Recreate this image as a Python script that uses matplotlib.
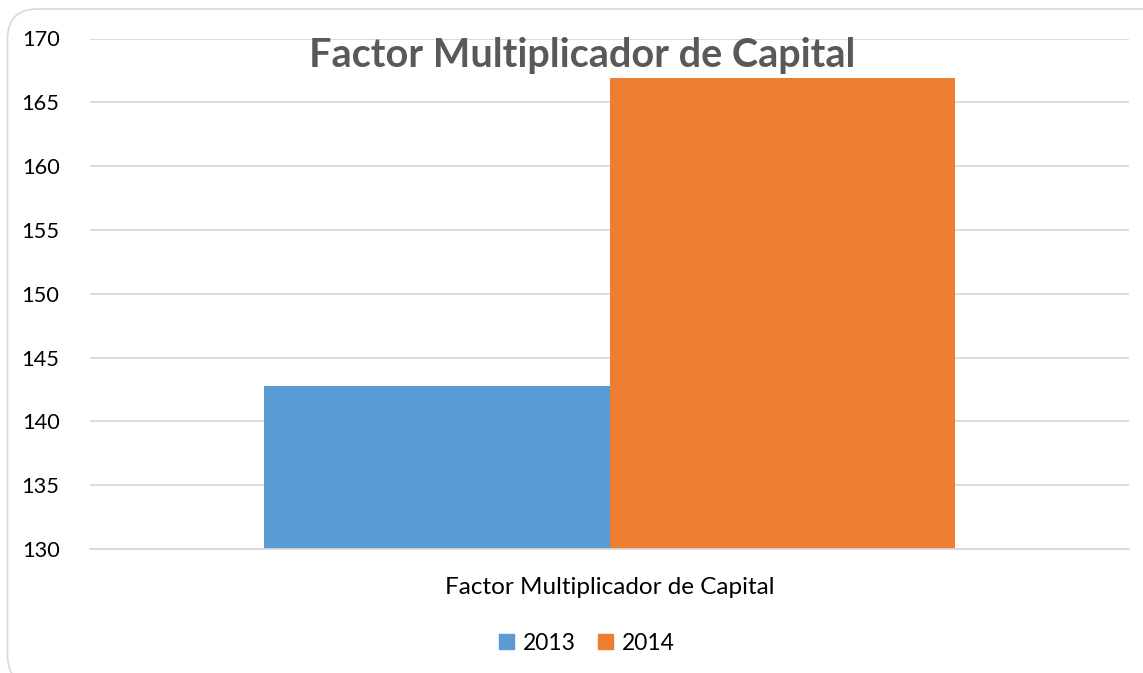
import matplotlib.pyplot as plt
from matplotlib.patches import FancyBboxPatch, Patch

categories = ["Factor Multiplicador de Capital"]
series = ["2013", "2014"]
values_2013 = [142.8]
values_2014 = [166.9]
y_ticks = [130, 135, 140, 145, 150, 155, 160, 165, 170]

blue = "#5B9BD5"
orange = "#ED7D31"

plt.rcParams["font.family"] = ["Lato", "DejaVu Sans"]

W, H = 1143, 673
fig = plt.figure(figsize=(W / 100, H / 100), dpi=100)

# rounded chart border like the Excel chart area (in inches)
border = FancyBboxPatch((0.075, -0.12), 11.7, 6.76,
                        boxstyle="round,pad=0,rounding_size=0.3",
                        transform=fig.dpi_scale_trans, fill=False,
                        edgecolor="#D9D9D9", linewidth=1.2)
fig.patches.append(border)

ax = fig.add_axes([90 / W, 1 - 549 / H, (1129 - 90) / W, (549 - 38.5) / H])

width = 0.333
x = [0]
ax.bar([p - width / 2 for p in x], values_2013, width, color=blue, label=series[0], zorder=2)
ax.bar([p + width / 2 for p in x], values_2014, width, color=orange, label=series[1], zorder=2)

ax.set_xlim(-0.5, 0.5)
ax.set_ylim(130, 170)
ax.set_yticks(y_ticks)
ax.set_yticklabels([str(t) for t in y_ticks], fontsize=15.7, color="#000000")
ax.set_xticks(x)
ax.set_xticklabels(categories, fontsize=17.5, color="#000000")
ax.tick_params(axis="y", length=0, pad=22)
ax.tick_params(axis="x", length=0, pad=20)
ax.grid(axis="y", color="#D9D9D9", linewidth=1.3, zorder=0)
for s in ["top", "right", "left"]:
    ax.spines[s].set_visible(False)
ax.spines["bottom"].set_color("#D9D9D9")
ax.spines["bottom"].set_linewidth(1.3)

fig.text(582 / W, 1 - 56 / H, "Factor Multiplicador de Capital", ha="center", va="center",
         fontsize=28.5, fontweight="bold", color="#595959")

handles = [Patch(color=blue, label=series[0]), Patch(color=orange, label=series[1])]
fig.legend(handles=handles, loc="center", bbox_to_anchor=(587 / W, 1 - 643 / H), ncol=2,
           frameon=False, fontsize=16.4, handlelength=0.65, handleheight=0.65,
           handletextpad=0.4, columnspacing=1.0)

fig.savefig("out.png", dpi=100)
